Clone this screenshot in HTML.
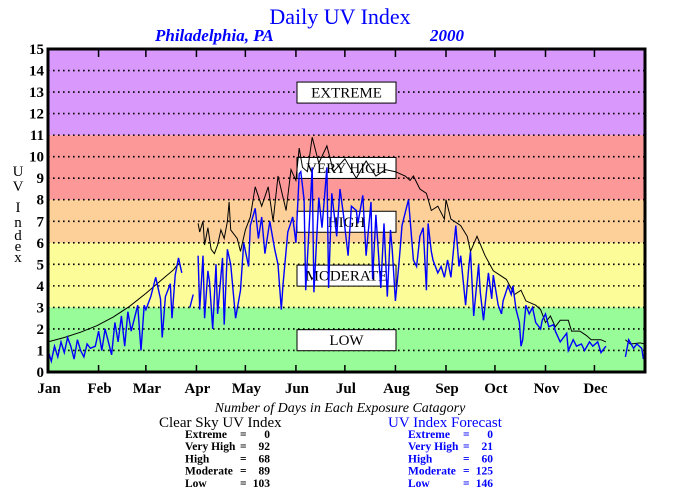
<!DOCTYPE html>
<html><head><meta charset="utf-8"><style>
body{margin:0;background:#fff;}
svg{display:block;font-family:"Liberation Serif",serif;}
</style></head><body>
<svg width="680" height="500" viewBox="0 0 680 500">
<text x="340" y="24" text-anchor="middle" fill="#0000ff" font-size="22">Daily UV Index</text>
<text x="155" y="41" fill="#0000ff" font-size="17" font-weight="bold" font-style="italic">Philadelphia, PA</text>
<text x="430" y="41" fill="#0000ff" font-size="17" font-weight="bold" font-style="italic">2000</text>
<g id="plot"></g>
<g font-size="15">
<text x="18" y="176" text-anchor="middle">U</text><text x="18" y="191" text-anchor="middle">V</text>
<text x="18" y="212" text-anchor="middle">I</text><text x="18" y="227" text-anchor="middle">n</text>
<text x="18" y="240" text-anchor="middle">d</text><text x="18" y="251" text-anchor="middle">e</text>
<text x="18" y="262" text-anchor="middle">x</text></g>
<text x="340" y="412" text-anchor="middle" font-size="14" font-style="italic">Number of Days in Each Exposure Catagory</text>
<text x="159" y="427" font-size="15">Clear Sky UV Index</text>
<text x="388" y="427" font-size="15" fill="#0000ff">UV Index Forecast</text>
<g id="sumL" font-size="11.5" font-weight="bold"></g>
<g id="sumR" font-size="11.5" font-weight="bold" fill="#0000ff"></g>
</svg>
<script>
const monthLabels=["Jan","Feb","Mar","Apr","May","Jun","Jul","Aug","Sep","Oct","Nov","Dec"];
const monthStartDays=[0,31,60,91,121,152,182,213,244,274,305,335];
const yTicks=[0,1,2,3,4,5,6,7,8,9,10,11,12,13,14,15];
const bandNames=["LOW","MODERATE","HIGH","VERY HIGH","EXTREME"];
const bandLimits=[0,3,6,8,11,15];
const bandColors=["#98fc98","#fcfc98","#fcd098","#fc9898","#d898fc"];
const bandLabelValues=[1.5,4.5,7.0,9.5,13.0];
const clearDays=[0,10,20,30,40,50,60,70,77,80,81,92,93,95,96,98,100,102,104,106,108,110,111,112,116,118,121,124,127,131,135,138,141,146,149,152,154,156,159,162,166,171,175,182,189,195,201,207,213,219,222,224,228,232,235,239,243,244,247,253,257,259,263,268,273,281,286,290,293,299,302,305,308,311,314,319,321,326,330,333,339,342,343,354,357,363,366];
const clearVals=[1.4,1.6,1.85,2.15,2.55,3.05,3.65,4.3,4.75,5.05,null,6.9,6.5,7.0,5.9,6.7,5.7,5.5,5.9,6.6,6.2,7.0,7.9,6.6,6.2,5.6,6.6,7.2,8.6,7.7,8.6,7.0,9.1,7.5,9.4,8.9,10.4,9.5,9.3,10.9,9.7,10.5,9.3,9.9,9.0,9.8,9.1,9.4,9.3,9.1,8.9,9.1,8.5,8.3,7.5,7.7,7.1,8.0,7.1,6.8,6.3,5.6,6.3,5.4,4.7,4.3,3.6,3.8,3.3,3.1,2.9,2.3,2.6,2.1,2.4,2.4,1.9,1.9,1.7,1.5,1.5,1.4,null,1.5,1.3,1.35,1.3];
const fcstDays=[0,2,4,6,8,10,12,14,16,18,20,22,24,26,29,31,33,35,37,39,41,43,45,47,49,51,53,55,57,59,60,63,66,69,70,72,75,76,78,80,82,84,87,89,90,92,93,95,96,98,99,101,103,104,107,108,110,112,115,118,120,123,124,127,129,131,133,136,139,141,143,144,147,150,152,154,155,157,158,160,162,163,166,168,171,172,174,177,179,181,184,186,189,190,193,195,198,199,201,204,206,208,210,211,213,215,216,217,219,221,224,226,228,230,232,233,235,236,239,241,243,245,247,250,252,253,256,258,259,261,264,265,267,270,272,273,276,278,279,282,284,285,287,289,290,291,293,295,297,299,302,303,305,307,310,311,314,318,319,322,324,327,329,332,334,337,339,342,343,354,356,359,361,364,365];
const fcstVals=[1.0,0.5,1.2,0.7,1.4,0.9,1.6,1.2,0.6,1.5,1.0,0.7,1.3,1.1,1.2,1.9,1.0,2.0,1.4,0.8,2.3,1.4,2.6,1.2,2.8,1.9,2.5,3.1,1.0,3.1,2.9,3.5,4.4,3.4,1.6,3.5,4.1,2.5,4.5,5.3,4.6,null,3.0,3.6,null,5.4,2.9,5.4,2.5,4.7,4.2,2.0,5.0,2.7,5.3,2.2,5.7,5.0,2.5,3.8,6.0,4.9,6.8,7.6,6.2,7.2,5.5,7.0,5.7,5.0,2.9,4.0,6.5,7.2,6.0,9.2,9.3,8.0,3.8,6.6,9.5,3.7,8.1,6.7,9.5,3.9,8.3,6.3,8.5,7.4,5.4,7.7,7.5,6.9,8.2,5.4,7.9,4.3,7.3,3.9,6.9,3.5,6.6,5.7,3.3,4.9,5.8,6.8,7.4,8.0,5.2,4.9,6.3,6.7,3.8,6.9,5.6,5.2,4.6,4.9,4.4,5.2,4.4,6.8,4.9,5.4,3.1,4.9,5.6,2.6,5.0,3.7,2.4,4.6,3.4,4.5,3.1,2.7,3.3,4.0,3.6,4.0,2.9,2.3,1.2,1.5,3.1,2.7,3.0,2.3,2.0,2.4,2.7,2.1,2.2,1.9,1.4,1.8,1.0,1.5,1.2,1.3,1.0,1.4,1.2,1.4,0.9,1.2,null,0.7,1.5,1.1,1.3,1.1,0.6];
const clearSummaryLabels=["Extreme","Very High","High","Moderate","Low"];
const clearSummaryVals=[0,92,68,89,103];
const fcstSummaryVals=[0,21,60,125,146];

const NS="http://www.w3.org/2000/svg";
const L=48,R=645,T=49,B=372,DAYS=366;
const xs=d=>L+d*(R-L)/DAYS;
const ys=v=>B-v*(B-T)/15;
function mk(tag,attrs,parent){const e=document.createElementNS(NS,tag);for(const k in attrs)e.setAttribute(k,attrs[k]);parent.appendChild(e);return e;}
const plot=document.getElementById('plot');
for(let i=0;i<bandColors.length;i++){
  const r=mk('rect',{x:L,y:ys(bandLimits[i+1]),width:R-L,height:ys(bandLimits[i])-ys(bandLimits[i+1]),fill:bandColors[i]},plot);
  
  
}
for(const v of yTicks){
  if(v>0&&v<15){const g=mk('line',{x1:L,x2:R,y1:ys(v),y2:ys(v),stroke:'#000','stroke-width':1.6,'stroke-dasharray':'1.6 3.4'},plot);
  
  }
  const t=mk('text',{x:44,y:ys(v)+5,'text-anchor':'end','font-size':15,'font-weight':'bold'},plot);
  t.textContent=v;
  
  
}
for(let i=0;i<bandNames.length;i++){
  const cy=ys(bandLabelValues[i]);
  const b=mk('rect',{x:297,y:cy-10,width:99,height:21,fill:'#fff',stroke:'#000','stroke-width':1},plot);
  
  
  const t=mk('text',{x:346.5,y:cy+5.5,'text-anchor':'middle','font-size':15},plot);
  t.textContent=bandNames[i];
  
  
}
function series(days,vals,color,name){
  let d='',pen=false;
  for(let i=0;i<days.length;i++){
    if(vals[i]===null){pen=false;continue;}
    d+=(pen?'L':'M')+xs(days[i]).toFixed(1)+' '+ys(vals[i]).toFixed(1);pen=true;
  }
  const p=mk('path',{d:d,fill:'none',stroke:color,'stroke-width':color==='#000'?1:1.4},plot);
  
  
}
series(clearDays,clearVals,'#000','clear-sky-line');
series(fcstDays,fcstVals,'#0000ff','forecast-line');
for(let i=0;i<monthStartDays.length;i++){
  const x=xs(monthStartDays[i]);
  if(i>0){mk('line',{x1:x,x2:x,y1:T,y2:T+8,stroke:'#000','stroke-width':1.5},plot);
  mk('line',{x1:x,x2:x,y1:B,y2:B-7,stroke:'#000','stroke-width':1.5},plot);}
  const t=mk('text',{x:x+1,y:393,'text-anchor':'middle','font-size':15,'font-weight':'bold'},plot);
  t.textContent=monthLabels[i];
  
  
}
const fr=mk('rect',{x:L,y:T,width:R-L,height:B-T,fill:'none',stroke:'#000','stroke-width':3},plot);


function summary(id,x,vals){
  const g=document.getElementById(id);
  for(let i=0;i<vals.length;i++){
    const y=438+i*12.2;
    const a=mk('text',{x:x,y:y},g);a.textContent=clearSummaryLabels[i];
    
    
    const e=mk('text',{x:x+55,y:y},g);e.textContent='=';
    const v=mk('text',{x:x+85,y:y,'text-anchor':'end'},g);v.textContent=vals[i];
    
    
  }
}
summary('sumL',185,clearSummaryVals);
summary('sumR',408,fcstSummaryVals);
</script>
</body></html>
